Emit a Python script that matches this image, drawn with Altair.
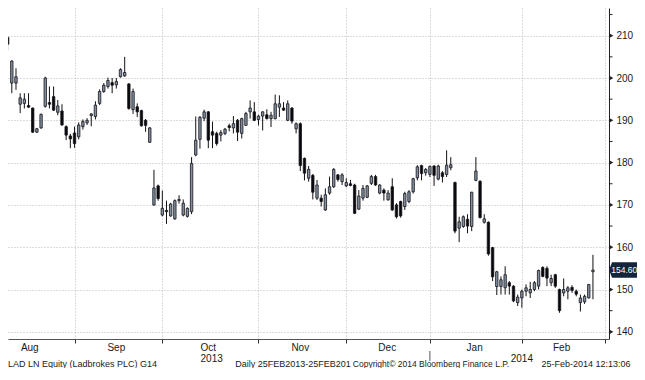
import altair as alt
import pandas as pd

# ---------------- data (LAD LN, daily candles) ----------------
opens = [212.1, 208.8, 209.6, 198.8, 198.8, 193.8, 194.0, 193.5, 192.9, 187.2,
         188.2, 193.3, 194.2, 195.6, 191.9, 192.2, 188.5, 186.3, 187.0, 186.1,
         188.5, 189.4, 191.1, 190.9, 194.0, 196.8, 198.0, 198.9, 198.4, 200.3,
         200.5, 198.6, 192.5, 193.2, 192.3, 190.0, 184.8, 170.0, 174.5, 167.6,
         168.7, 167.4, 166.7, 171.0, 167.6, 167.3, 168.4, 181.8, 185.5, 190.5,
         192.0, 187.3, 186.9, 186.5, 186.9, 188.7, 188.2, 190.0, 186.9, 188.8,
         192.0, 192.0, 190.2, 191.0, 191.3, 190.4, 190.4, 193.1, 192.9, 190.0,
         192.9, 188.0, 189.2, 181.0, 176.3, 177.0, 171.6, 171.6, 168.8, 172.8,
         174.3, 177.1, 175.5, 174.5, 175.0, 174.7, 169.0, 171.6, 171.8, 175.1,
         176.7, 172.8, 173.5, 171.2, 174.3, 170.0, 170.8, 169.6, 170.8, 173.1,
         176.4, 179.3, 177.6, 177.2, 179.2, 176.1, 177.6, 177.2, 178.8, 175.3,
         164.5, 164.9, 166.6, 164.9, 175.8, 175.6, 165.9, 165.9, 159.9, 150.7,
         150.7, 150.4, 151.6, 150.8, 146.9, 148.0, 149.6, 149.2, 150.0, 150.8,
         155.2, 155.0, 151.6, 153.5, 150.0, 149.2, 149.6, 150.5, 149.6, 146.9,
         147.1, 148.0, 154.2]
highs = [212.3, 210.4, 209.7, 204.2, 202.3, 196.4, 196.4, 196.4, 193.0, 188.2,
         191.6, 200.3, 198.0, 198.0, 194.8, 193.8, 188.8, 186.8, 188.5, 189.5,
         190.2, 190.5, 191.7, 194.5, 197.3, 198.8, 200.1, 200.0, 200.0, 202.3,
         205.0, 198.8, 197.5, 194.0, 192.5, 190.3, 188.4, 178.3, 174.8, 173.4,
         171.0, 170.5, 171.3, 172.3, 171.3, 169.4, 181.3, 190.9, 191.0, 192.5,
         192.2, 189.7, 187.3, 187.7, 188.2, 189.2, 191.0, 190.3, 190.6, 192.0,
         194.7, 194.3, 191.3, 192.1, 192.6, 192.0, 196.1, 195.9, 194.3, 194.7,
         193.1, 189.5, 189.5, 181.2, 179.2, 177.3, 175.9, 172.4, 173.9, 176.7,
         178.7, 177.3, 177.5, 176.3, 175.9, 175.0, 173.5, 174.7, 174.7, 177.1,
         177.1, 174.9, 173.9, 173.5, 176.3, 170.4, 171.0, 173.1, 173.5, 176.4,
         179.4, 179.5, 178.7, 179.3, 179.4, 179.5, 178.0, 182.9, 181.3, 175.5,
         167.2, 167.5, 167.8, 173.1, 181.3, 175.8, 167.8, 166.1, 160.1, 154.4,
         153.1, 155.5, 152.0, 151.0, 148.8, 150.0, 151.2, 151.8, 152.0, 154.7,
         155.5, 155.5, 153.5, 153.7, 150.2, 152.6, 150.8, 151.0, 150.0, 148.8,
         148.8, 151.3, 158.2]
lows = [206.6, 208.3, 206.5, 196.4, 197.2, 191.7, 192.8, 193.0, 187.0, 187.0,
        188.0, 193.0, 192.8, 192.2, 191.2, 188.7, 185.3, 183.4, 183.5, 185.5,
        187.8, 188.9, 188.6, 190.2, 193.6, 196.5, 197.5, 196.4, 197.5, 200.1,
        200.3, 192.5, 191.5, 190.8, 188.5, 187.3, 184.7, 169.8, 171.0, 167.3,
        165.5, 167.2, 166.5, 170.3, 167.3, 167.0, 167.8, 181.5, 183.3, 189.8,
        183.4, 183.4, 184.0, 185.0, 186.5, 187.4, 186.9, 185.1, 185.7, 188.7,
        190.4, 189.8, 188.8, 187.6, 190.2, 188.4, 190.2, 190.8, 192.2, 189.8,
        189.2, 186.9, 178.0, 175.8, 175.5, 171.3, 171.2, 169.6, 168.6, 172.4,
        174.0, 175.5, 174.7, 174.2, 174.4, 167.9, 168.8, 171.0, 171.6, 174.7,
        174.5, 172.5, 171.0, 171.0, 168.6, 166.8, 167.0, 168.8, 170.4, 172.7,
        175.8, 175.8, 176.9, 176.6, 174.5, 175.8, 175.3, 176.6, 178.2, 163.3,
        161.2, 164.6, 163.3, 163.8, 175.6, 166.8, 165.6, 158.0, 152.0, 148.7,
        148.8, 148.8, 148.8, 147.0, 146.1, 145.7, 148.4, 148.0, 149.6, 150.0,
        152.9, 150.8, 150.8, 150.4, 144.5, 148.4, 147.7, 149.2, 148.4, 144.8,
        146.6, 147.9, 147.7]
closes = [209.0, 210.2, 208.0, 204.0, 200.3, 195.3, 195.0, 193.1, 187.2, 188.0,
          191.4, 200.0, 193.8, 192.4, 193.4, 188.9, 186.5, 185.6, 184.5, 188.9,
          189.7, 190.0, 191.5, 193.6, 196.8, 198.3, 199.4, 198.3, 199.2, 202.0,
          201.3, 192.8, 196.8, 192.0, 188.7, 188.8, 188.2, 174.0, 171.5, 169.2,
          168.4, 170.2, 171.0, 171.3, 170.4, 169.2, 179.8, 185.3, 190.7, 192.0,
          185.3, 186.5, 184.5, 187.1, 187.9, 188.3, 189.2, 187.2, 190.4, 191.6,
          192.9, 190.0, 191.0, 192.0, 190.4, 191.2, 193.9, 193.9, 192.4, 193.9,
          189.8, 189.2, 179.3, 177.5, 178.4, 173.0, 174.7, 170.8, 172.4, 174.3,
          178.4, 176.0, 177.1, 175.3, 174.6, 168.0, 172.1, 173.9, 174.5, 176.7,
          174.7, 174.7, 172.8, 172.8, 168.8, 167.2, 167.4, 172.7, 173.1, 176.2,
          179.0, 177.4, 178.4, 179.1, 177.0, 179.2, 176.7, 179.4, 179.5, 163.8,
          166.0, 167.2, 165.0, 173.0, 178.0, 167.0, 166.7, 158.4, 153.0, 154.2,
          152.3, 153.5, 150.8, 147.3, 148.2, 149.6, 150.4, 150.0, 151.6, 154.5,
          153.1, 152.7, 152.6, 150.8, 145.0, 150.0, 150.4, 149.8, 148.9, 148.0,
          148.4, 151.2, 154.6]
day_index = list(range(len(opens)))

month_names = ["Aug", "Sep", "Oct", "Nov", "Dec", "Jan", "Feb"]
month_label_pos = [7.3, 28.0, 50.0, 72.0, 92.8, 113.7, 134.5]
month_starts = [18, 39, 62, 83, 103, 125, 145]
year_labels = ["2013", "2014"]
year_label_pos = [50.8, 125.0]
year_break = [103]
y_major = [140, 150, 160, 170, 180, 190, 200, 210]
y_minor = [145, 155, 165, 175, 185, 195, 205, 215]
last_price = [154.60]
last_price_text = ["154.60"]
footer_texts = ["LAD LN Equity (Ladbrokes PLC) G14", "Daily 25FEB2013-25FEB201",
                "Copyright\u00a9 2014 Bloomberg Finance L.P.", "25-Feb-2014 12:13:06"]

# ---------------- tables ----------------
df = pd.DataFrame({"i": day_index, "open": opens, "high": highs, "low": lows, "close": closes})
df["dir"] = ["up" if c >= o else "down" for o, c in zip(opens, closes)]

W, H = 601, 331           # plot area; whole svg is 629 x 360
FONT = "Liberation Sans"
TXT = "#1a1a1a"
GRID = "#b8b8b8"

xs = alt.Scale(domain=[2.09, 145.84], nice=False, zero=False, padding=0)
ys = alt.Scale(domain=[138.3, 216.55], nice=False, zero=False, padding=0)

x_axis = alt.Axis(values=month_starts, labels=False, title=None, grid=True,
                  gridDash=[1, 2], gridColor=GRID, gridWidth=1,
                  ticks=True, tickSize=4, tickColor="#333", domain=True,
                  domainColor="#555", orient="bottom")
y_axis = alt.Axis(values=y_major, orient="right", title=None, grid=True,
                  gridDash=[1, 2], gridColor=GRID, gridWidth=1,
                  ticks=False, domain=True, domainColor="#222",
                  labelPadding=7, labelFont=FONT, labelFontSize=10,
                  labelColor=TXT)

base = alt.Chart(df)

wicks = base.mark_rule(color="#111111", strokeWidth=1, clip=True).encode(
    x=alt.X("i:Q", scale=xs, axis=x_axis),
    y=alt.Y("low:Q", scale=ys, axis=y_axis),
    y2="high:Q",
)

bodies = base.mark_bar(size=2.4, stroke="#15151c", strokeWidth=0.8, clip=True).encode(
    x=alt.X("i:Q", scale=xs),
    y=alt.Y("open:Q", scale=ys),
    y2="close:Q",
    color=alt.Color("dir:N", scale=alt.Scale(domain=["up", "down"],
                                             range=["#8490a0", "#08080c"]), legend=None),
)

minor_df = pd.DataFrame({"v": y_minor})
minor_ticks = alt.Chart(minor_df).mark_rule(color="#222", strokeWidth=1).encode(
    y=alt.Y("v:Q", scale=ys), x=alt.value(W), x2=alt.value(W + 3.5))

major_df = pd.DataFrame({"v": y_major})
major_ticks = alt.Chart(major_df).mark_point(shape="triangle-right", filled=True,
                                             size=18, color="#222", opacity=1).encode(
    y=alt.Y("v:Q", scale=ys), x=alt.value(W + 2.5))

lp_df = pd.DataFrame({"v": last_price, "t": last_price_text})
tag_shape = "M -1 0 L -0.78 -0.55 L 1 -0.55 L 1 0.55 L -0.78 0.55 Z"
price_tag = alt.Chart(lp_df).mark_point(shape=tag_shape, filled=True, size=784,
                                        color="#14243a", opacity=1).encode(
    y=alt.Y("v:Q", scale=ys), x=alt.value(W + 14))
price_txt = alt.Chart(lp_df).mark_text(font=FONT, fontSize=8.5, color="white",
                                       align="center", baseline="middle").encode(
    y=alt.Y("v:Q", scale=ys), x=alt.value(W + 15.3), text="t:N")

mon_df = pd.DataFrame({"m": month_names, "p": month_label_pos})
months = alt.Chart(mon_df).mark_text(font=FONT, fontSize=10, color=TXT,
                                     baseline="alphabetic").encode(
    x=alt.X("p:Q", scale=xs), y=alt.value(H + 12), text="m:N")

yr_df = pd.DataFrame({"y": year_labels, "p": year_label_pos})
years = alt.Chart(yr_df).mark_text(font=FONT, fontSize=10, color=TXT,
                                   baseline="alphabetic").encode(
    x=alt.X("p:Q", scale=xs), y=alt.value(H + 23), text="y:N")

yb_df = pd.DataFrame({"p": year_break})
year_sep = alt.Chart(yb_df).mark_rule(color="#555", strokeWidth=1).encode(
    x=alt.X("p:Q", scale=xs), y=alt.value(H + 12), y2=alt.value(H + 22))

footer_specs = [(footer_texts[0], 0, "left", 9),
                (footer_texts[1], 285, "center", 9),
                (footer_texts[2], 423, "center", 8.5),
                (footer_texts[3], 578, "center", 9)]
footer_layers = [
    alt.Chart(pd.DataFrame({"t": [t]})).mark_text(
        font=FONT, fontSize=fs, color=TXT, align=al, baseline="alphabetic"
    ).encode(x=alt.value(px), y=alt.value(H + 27.5), text="t:N")
    for t, px, al, fs in footer_specs
]

chart = alt.layer(wicks, bodies, minor_ticks, major_ticks, price_tag, price_txt,
                  months, years, year_sep, *footer_layers).properties(
    width=W, height=H,
    autosize=alt.AutoSizeParams(type="none"),
    padding={"left": 0, "top": 0, "right": 28, "bottom": 29},
    background="white",
).configure_view(stroke=None)

chart.save("out.html", embed_options={"renderer": "svg", "actions": False})
